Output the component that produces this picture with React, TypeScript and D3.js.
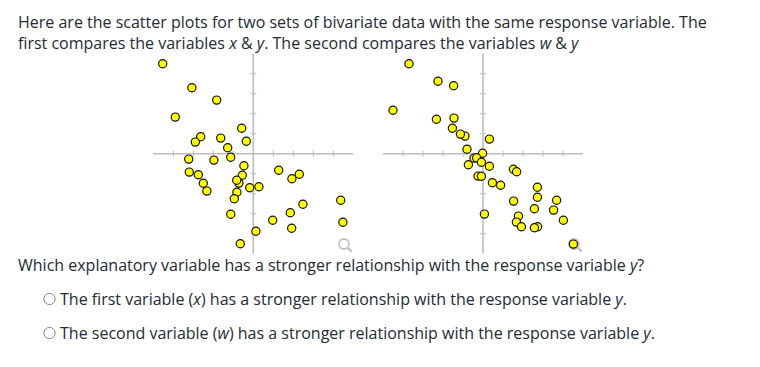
import React from "react";
import * as d3 from "d3";

const xValues = [-4.53,-3.07,-1.83,-3.9,-0.58,-2.63,-2.9,-1.63,-0.35,-1.28,-1.13,-1.97,-3.23,-0.47,-3.2,-2.75,1.27,2.3,1.93,-0.55,-0.72,-0.83,-2.5,-2.32,-0.18,0.28,-0.82,-0.95,4.37,2.48,1.85,-1.13,0.97,4.48,1.92,0.13,-0.65];
const yFirst = [4.5,3.3,2.68,1.83,1.27,0.85,0.58,0.78,0.62,0.3,-0.18,-0.32,-0.27,-0.6,-0.92,-1.05,-0.83,-1.03,-1.25,-1.08,-1.47,-1.33,-1.48,-1.87,-1.7,-1.65,-1.93,-2.25,-2.33,-2.53,-2.95,-3.03,-3.33,-3.43,-3.73,-3.88,-4.5];
const wValues = [-3.7,-2.25,-1.47,-4.5,-2.33,-1.45,-1.53,-0.9,-1.13,0.32,-0.8,-0.02,-0.45,-0.32,-0.08,-0.73,0.32,1.52,1.68,-0.25,-0.08,0.47,0.88,2.72,2.72,3.68,1.53,2.57,3.53,0.07,1.77,4.02,1.67,1.92,2.73,2.57,4.52];
const ySecond = [4.5,3.62,3.4,2.17,1.72,1.78,1.27,0.88,0.98,0.73,0.22,0.02,-0.22,-0.2,-0.43,-0.55,-0.63,-0.78,-0.9,-1.12,-1.13,-1.45,-1.58,-1.68,-2.18,-2.33,-2.37,-2.75,-2.82,-3.02,-3.12,-3.33,-3.42,-3.65,-3.65,-3.7,-4.52];
const ticks = [-4,-3,-2,-1,1,2,3,4];
const intro = ["Here are the scatter plots for two sets of bivariate data with the same response variable. The", "first compares the variables "];
const FONT = "'Open Sans', sans-serif";
const INK = "#222b33";
const AXIS = "#bdbdbd";

function Plot({ cx, xs, ys, lens }: { cx: number; xs: number[]; ys: number[]; lens: [number, number] }) {
  const x = d3.scaleLinear().domain([-5, 5]).range([cx - 100, cx + 100]);
  const y = d3.scaleLinear().domain([-5, 5]).range([253.7, 53.7]);
  return (
    <g>
      <line x1={x(-5)} x2={x(5)} y1={y(0)} y2={y(0)} stroke={AXIS} strokeWidth={1.6} />
      <line x1={x(0)} x2={x(0)} y1={y(5)} y2={y(-5)} stroke={AXIS} strokeWidth={1.6} />
      {ticks.map((t) => (
        <g key={t} stroke={AXIS} strokeWidth={1}>
          <line x1={x(t)} x2={x(t)} y1={y(0) - 3} y2={y(0) + 3} />
          <line x1={x(0) - 3} x2={x(0) + 3} y1={y(t)} y2={y(t)} />
        </g>
      ))}
      <g fill="none" stroke="#c4c4c4" strokeWidth={1.8}>
        <circle cx={lens[0]} cy={lens[1]} r={5} />
        <line x1={lens[0] + 3.6} y1={lens[1] + 3.6} x2={lens[0] + 7.6} y2={lens[1] + 7.6} strokeWidth={2.2} />
      </g>
      {xs.map((v, i) => (
        <circle key={i} cx={x(v)} cy={y(ys[i])} r={4.1} fill="#ffff00" stroke="#111" strokeWidth={1.2} />
      ))}
    </g>
  );
}

function Radio({ y }: { y: number }) {
  return <circle cx={49.5} cy={y} r={5.6} fill="#fff" stroke="#7f858b" strokeWidth={1} />;
}

export default function App() {
  return (
    <svg width={760} height={367} style={{ position: "absolute", left: 0, top: 0, background: "#fff" }} fontFamily={FONT} fontSize={16} fill={INK}>
      <text x={18} y={28}>{intro[0]}</text>
      <text x={18} y={49}>
        {intro[1]}<tspan fontStyle="italic">x</tspan> &amp; <tspan fontStyle="italic">y</tspan>. The second compares the variables <tspan fontStyle="italic">w</tspan> &amp; <tspan fontStyle="italic">y</tspan>
      </text>
      <Plot cx={253.3} xs={xValues} ys={yFirst} lens={[344, 244]} />
      <Plot cx={483} xs={wValues} ys={ySecond} lens={[574, 244]} />
      <text x={18} y={271}>Which explanatory variable has a stronger relationship with the response variable <tspan fontStyle="italic">y</tspan>?</text>
      <Radio y={299} />
      <text x={60} y={305}>The first variable (<tspan fontStyle="italic">x</tspan>) has a stronger relationship with the response variable <tspan fontStyle="italic">y</tspan>.</text>
      <Radio y={333} />
      <text x={60} y={339}>The second variable (<tspan fontStyle="italic">w</tspan>) has a stronger relationship with the response variable <tspan fontStyle="italic">y</tspan>.</text>
    </svg>
  );
}
